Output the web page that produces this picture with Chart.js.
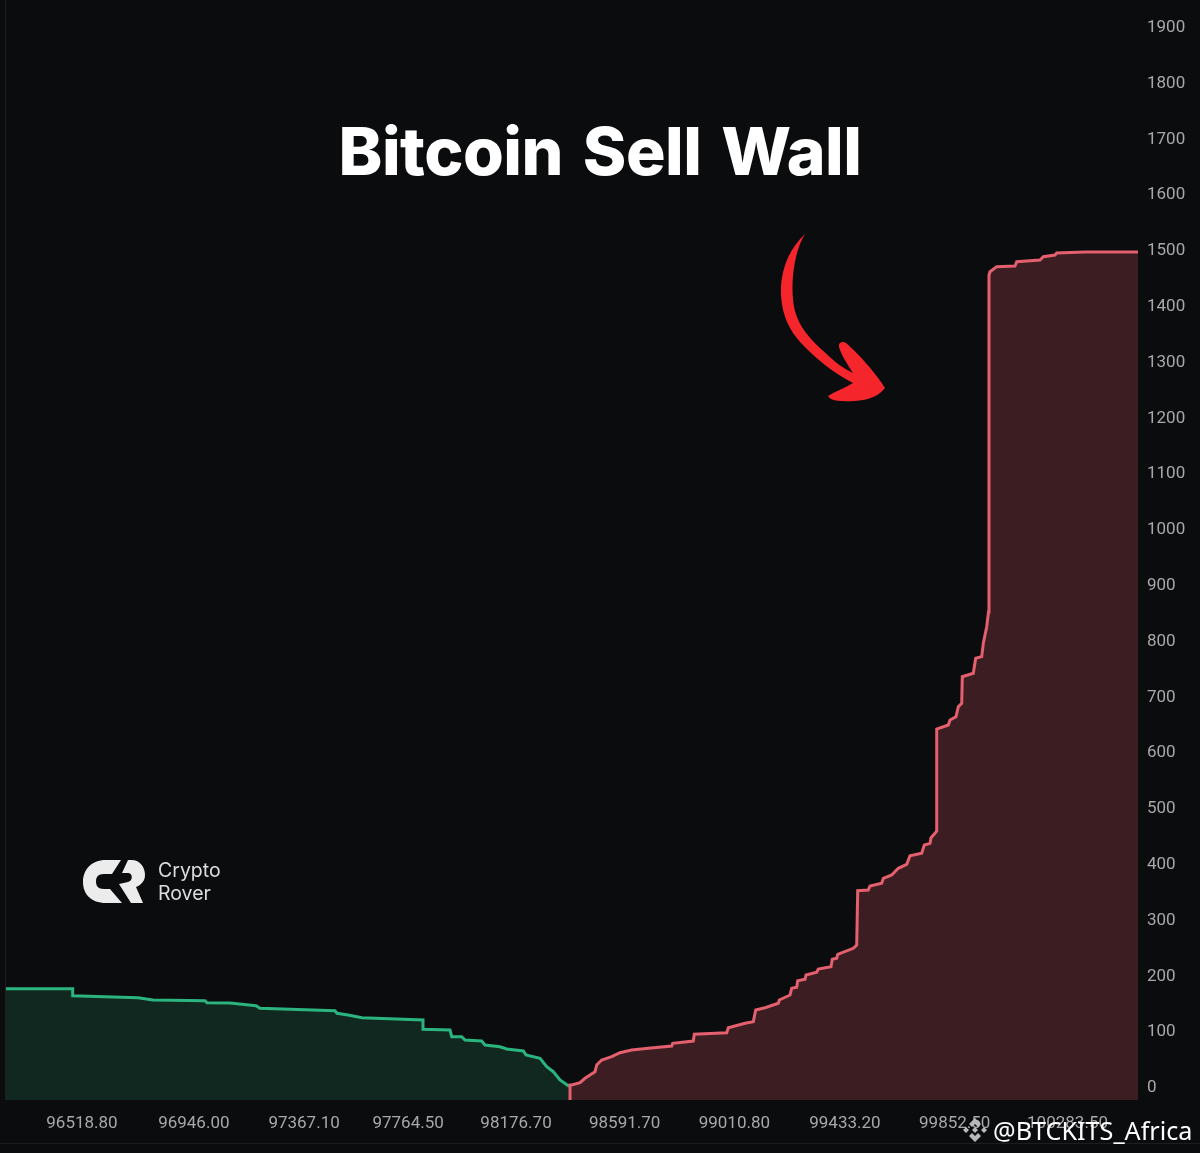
<!DOCTYPE html>
<html>
<head>
<meta charset="utf-8">
<title>Bitcoin Sell Wall</title>
<script src="https://cdn.jsdelivr.net/npm/chart.js@4/dist/chart.umd.min.js"></script>
<style>
  html, body { margin: 0; padding: 0; background: #0b0c0e; }
  #wrap { position: relative; width: 1200px; height: 1153px; overflow: hidden; background: #0b0c0e; }
  canvas { position: absolute; left: 0; top: 0; }
  .over { position: absolute; white-space: nowrap; }
  #title { left: 0; width: 1200px; top: 106px; text-align: center; font: 800 66px Inter, sans-serif; letter-spacing: -0.5px; word-spacing: 6px; color: #fff; line-height: 90px; }
  .brand { left: 158px; font: 400 19.5px Inter, sans-serif; color: #dcdcdc; line-height: 24px; }
  #mark { left: 993px; top: 1113px; font: 400 25.2px "Noto Sans", sans-serif; color: #fff; line-height: 34px; }
  .rule { position: absolute; background: #1c1e22; }
  svg { position: absolute; left: 0; top: 0; }
</style>
</head>
<body>
<div id="wrap">
  <canvas id="depthChart" width="1200" height="1153"></canvas>
  <div class="rule" style="left:5px;top:0;width:1px;height:1100px"></div>
  <div class="rule" style="left:0;top:1143px;width:1200px;height:1px"></div>
  <svg width="1200" height="1153">
    <!-- red arrow -->
    <path fill="#f5262b" d="M805 234 C788 250 780 272 781 295 C782 316 790 331 801 343 C815 358 832 372 853 383 C845 388 836 391 828 396 C830 400 836 401 843 401 C858 402 876 400 885 388 C878 376 860 355 846 343 C843 341 838 342 839 347 C841 355 848 365 853 373 C840 367 831 358 821 349 C809 338 799 326 795 311 C790 292 792 255 805 234 Z"/>
    <!-- logo -->
    <path fill="#ececec" d="M121 860 H106 C91 860 83 870 83 882 C83 894 91 903 106 903 H122 L110 889 H104 C98 889 96 886 96 881.5 C96 877 98 874 104 874 H112 Z"/>
    <path fill="#ececec" d="M128 860 H131 C141 860 145 868 145 875 C145 881 141 885 136 887 L143 903 H131 L119 884 L128 882 C133 881 133 873 128 873 H122 Z"/>
    <!-- watermark icon -->
    <g fill="#b9b9b9">
      <path d="M975 1118 l6 6 -3 3 -3 -3 -3 3 -3 -3 Z"/>
      <path d="M963 1130 l3 -3 3 3 -3 3 Z M981 1130 l3 -3 3 3 -3 3 Z"/>
      <path d="M975 1127 l3 3 -3 3 -3 -3 Z"/>
      <path d="M975 1142 l-6 -6 3 -3 3 3 3 -3 3 3 Z"/>
    </g>
  </svg>
  <div id="title" class="over">Bitcoin Sell Wall</div>
  <div class="over brand" style="top:858px">Crypto</div>
  <div class="over brand" style="top:881px">Rover</div>
  <div id="mark" class="over">@BTCKITS_Africa</div>
</div>
<script>
// Depth
const bidPrices = [96228.5, 96483.3, 96483.3, 96732.7, 96790, 96988.7, 96996.3, 97084.2, 97183.5, 97198.8, 97485.3, 97492.9, 97534.9, 97588.4, 97821.4, 97821.4, 97924.6, 97931.1, 97969.3, 97981.9, 98045.7, 98058.3, 98115.6, 98141.2, 98204.6, 98214.9, 98268.4, 98294, 98319.2, 98344.8, 98376.5, 98383];
const bidDepths = [178, 178, 165.4, 161.8, 157.7, 156.5, 152.9, 152.3, 147.5, 142.8, 138.5, 133.9, 130.8, 126, 121.9, 105.2, 104, 92, 92, 86, 84.2, 77.1, 74, 69.9, 66.3, 59.2, 53.2, 38.2, 29.2, 14.4, 4.1, 4.1];

const askPrices = [98383, 98383, 98389.5, 98421.2, 98440.3, 98459.4, 98478.5, 98485, 98504.1, 98542.3, 98574, 98618.7, 98682.1, 98771.5, 98775.3, 98854, 98857.8, 98981.6, 98987.7, 99051.5, 99083.2, 99092.3, 99127.9, 99178.7, 99182.5, 99223.4, 99229.9, 99249, 99252.8, 99280.7, 99284.5, 99325.4, 99331.5, 99380, 99384.9, 99401.8, 99405.6, 99465.2, 99478.2, 99482, 99522.5, 99529, 99573.7, 99579.8, 99611.8, 99637.1, 99669.2, 99681.8, 99726.5, 99736.4, 99758.2, 99762, 99777.3, 99783.8, 99783.8, 99828.1, 99834.6, 99857.5, 99866.3, 99879.3, 99881.5, 99923.6, 99932.7, 99955.7, 99961.8, 99974.8, 99981.6, 99983.5, 99987.4, 100013, 100082.9, 100089.4, 100178.4, 100191, 100235.7, 100242.2, 100350.3, 100552.7];
const askDepths = [-21.5, 5.4, 5.4, 9.5, 17.4, 23.3, 29.2, 41.2, 50.2, 56.1, 63.3, 68.1, 71.2, 75.3, 80.1, 84.2, 96.3, 99.1, 108.1, 116, 118.8, 139.8, 143.9, 151.8, 157.7, 166.7, 178.7, 180.5, 192.3, 194.8, 202.5, 207.4, 213.3, 217.4, 230.7, 232.5, 239.6, 250.4, 256.3, 353.6, 354.9, 362, 366.9, 375.8, 381.7, 393.7, 400.9, 416.3, 420.6, 435.5, 438.5, 448.6, 456.5, 460.6, 643.4, 650.6, 659.5, 665.4, 683.3, 689.4, 737.1, 743.2, 770.1, 773, 797, 826.7, 853.1, 1456.6, 1462.9, 1471.9, 1473.1, 1480.8, 1483.9, 1489.8, 1492.8, 1496.4, 1498.2, 1498.2];

const priceTicks = [96518.8, 96946, 97367.1, 97764.5, 98176.7, 98591.7, 99010.8, 99433.2, 99852.5, 100283.5];
const depthTicks = [0, 100, 200, 300, 400, 500, 600, 700, 800, 900, 1000, 1100, 1200, 1300, 1400, 1500, 1600, 1700, 1800, 1900];

const toPoints = (xs, ys) => xs.map((x, i) => ({ x: x, y: ys[i] }));
const tickFont = { family: 'Roboto', size: 17 };

new Chart(document.getElementById('depthChart'), {
  type: 'line',
  data: {
    datasets: [
      {
        label: 'Asks',
        data: toPoints(askPrices, askDepths),
        borderColor: '#e4606e',
        backgroundColor: '#3b1d22',
        borderWidth: 3,
        pointRadius: 0,
        fill: 'start'
      },
      {
        label: 'Bids',
        data: toPoints(bidPrices, bidDepths),
        borderColor: '#2bb380',
        backgroundColor: '#102820',
        borderWidth: 3,
        pointRadius: 0,
        fill: 'start'
      }
    ]
  },
  options: {
    responsive: false,
    animation: false,
    layout: { padding: { left: 6, right: 0, top: 0, bottom: 0 } },
    plugins: { legend: { display: false }, tooltip: { enabled: false } },
    scales: {
      x: {
        type: 'linear',
        min: 96228.5,
        max: 100552.7,
        grid: { display: false, drawTicks: false },
        border: { display: false },
        afterBuildTicks: scale => { scale.ticks = priceTicks.map(v => ({ value: v })); },
        afterFit: scale => {
          scale.height = 53;
          scale.paddingLeft = 0;
          scale.paddingRight = 0;
        },
        ticks: {
          color: '#a8a8a8',
          font: tickFont,
          padding: 14,
          autoSkip: false,
          maxRotation: 0,
          callback: v => v.toFixed(2)
        }
      },
      y: {
        type: 'linear',
        position: 'right',
        min: -21.5,
        max: 1949.8,
        grid: { display: false, drawTicks: false },
        border: { display: false },
        afterBuildTicks: scale => { scale.ticks = depthTicks.map(v => ({ value: v })); },
        afterFit: scale => {
          scale.width = 62;
          scale.paddingTop = 0;
          scale.paddingBottom = 0;
        },
        ticks: {
          color: '#a8a8a8',
          font: tickFont,
          padding: 9,
          autoSkip: false,
          callback: v => String(v)
        }
      }
    }
  }
});
</script>
</body>
</html>
